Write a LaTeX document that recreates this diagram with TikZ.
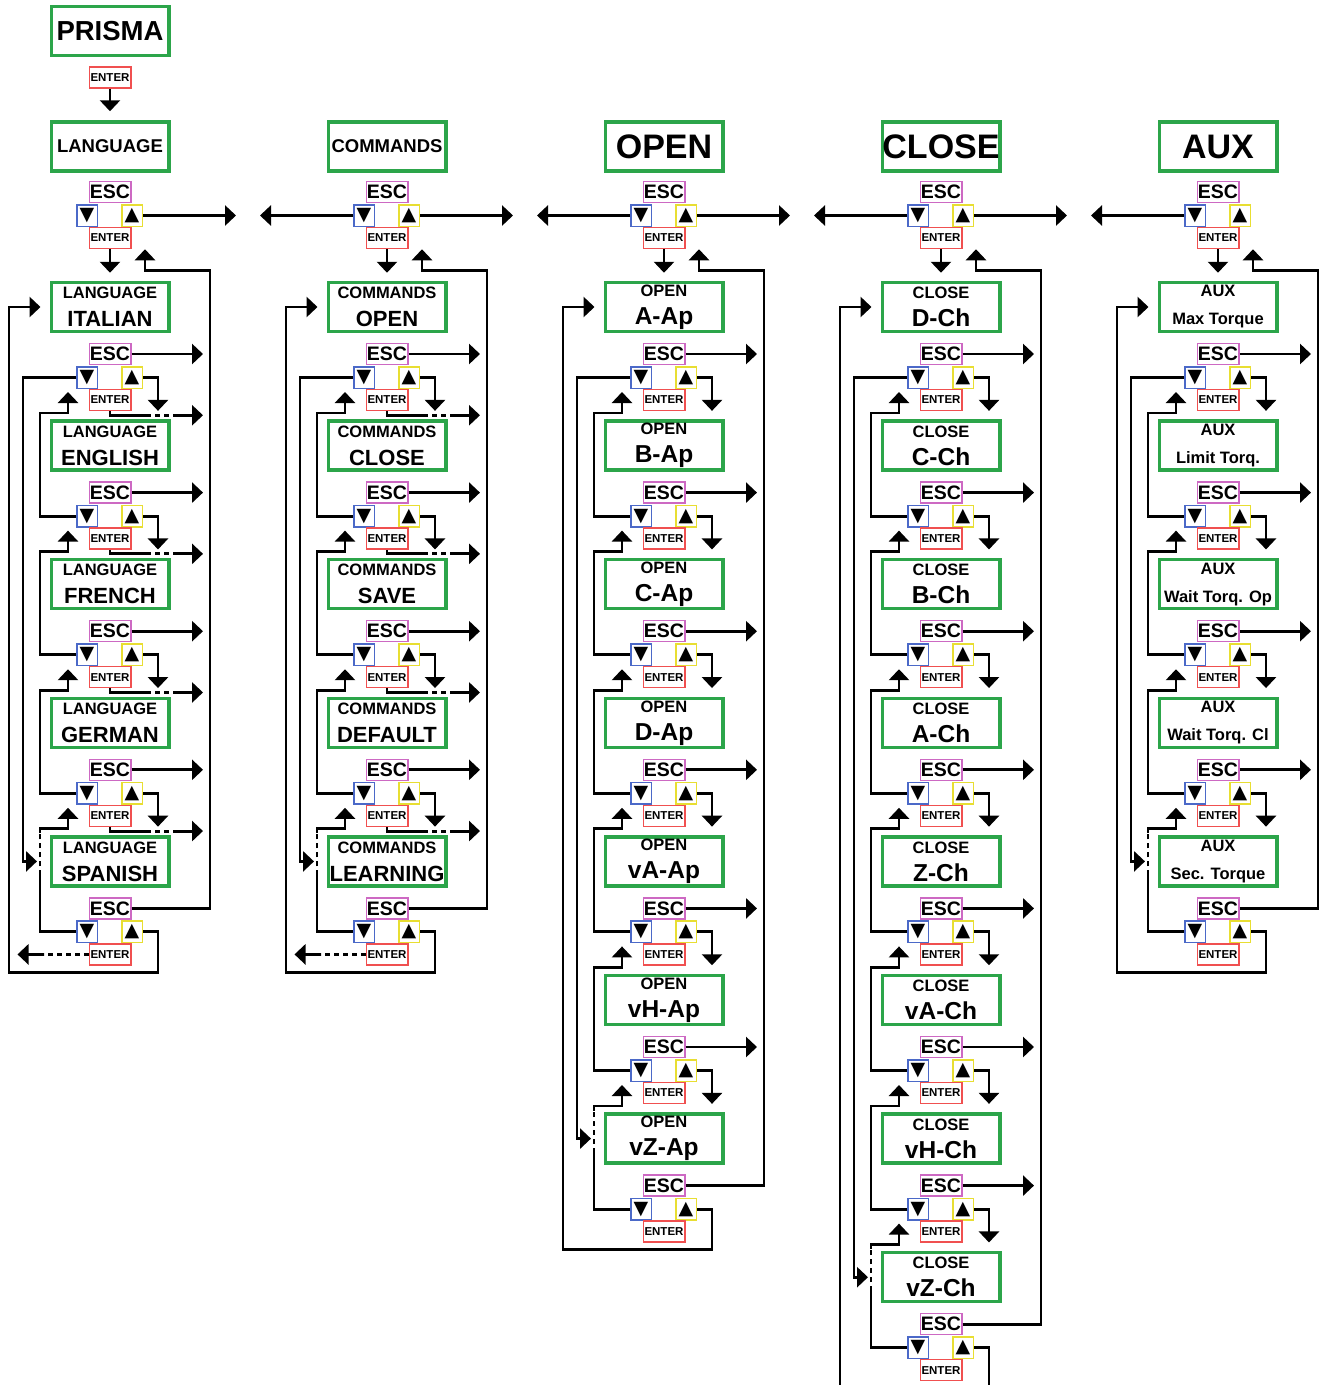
\documentclass[tikz,border=0pt]{standalone}
\usepackage{fontspec}
\setmainfont{Liberation Sans}
\newfontfamily\keyfont{DejaVu Sans}
\usetikzlibrary{arrows.meta}

\definecolor{boxgreen}{RGB}{44,165,74}
\definecolor{escpink}{RGB}{205,105,195}
\definecolor{downblue}{RGB}{75,105,200}
\definecolor{upyellow}{RGB}{232,222,50}
\definecolor{enterred}{RGB}{240,80,80}

% two-line screen text: small title, larger value
\newcommand{\screentext}[3]{{\fontsize{16.5}{18}\selectfont #1}\\{\fontsize{#3}{#3}\selectfont #2}}

% ESC / down / up / ENTER keys below a screen centred at (#2,#3)
\newcommand{\keypad}[3]{%
  \node[esckey] (esc-#1) at (#2,#3+47) {ESC};
  \node[dnkey] (dn-#1) at (#2-23,#3+70.5) {▼};
  \node[upkey] (up-#1) at (#2+22,#3+70.5) {▲};
  \node[enterkey] (ent-#1) at (#2,#3+93) {ENTER};
}

\begin{document}
\begin{tikzpicture}[x=1pt, y=-1pt,
  screen/.style={draw=boxgreen, line width=3.5pt, minimum width=117.5pt, minimum height=49pt,
    inner sep=0pt, align=center, font=\bfseries\fontsize{20}{28}\selectfont},
  esckey/.style={draw=escpink, line width=1.5pt, minimum width=41.5pt, minimum height=21pt,
    inner sep=0pt, font=\bfseries\fontsize{19.5}{19.5}\selectfont},
  dnkey/.style={draw=downblue, line width=1.5pt, minimum width=20.5pt, minimum height=21.5pt,
    inner sep=0pt, font=\keyfont\fontsize{19}{19}\selectfont},
  upkey/.style={dnkey, draw=upyellow},
  enterkey/.style={draw=enterred, line width=1.5pt, minimum width=41.5pt, minimum height=21pt,
    inner sep=0pt, font=\bfseries\fontsize{11.5}{11.5}\selectfont},
  wire/.style={line width=2.9pt},
  link/.style={wire, -{Triangle[width=20pt,length=11pt]}},
  gapline/.style={wire, dash pattern=on 5pt off 4pt}]

\clip (0,0) rectangle (1321,1385);

% start
\node[screen] (prisma) at (110,31) {\fontsize{27.5}{27.5}\selectfont PRISMA};
\node[enterkey] (ent-start) at (110,77.5) {ENTER};

% -------- menu columns --------
\foreach \col/\n/\ent/\hd/\hsz/\sub/\bsz/\items in {
    1/5/1/LANGUAGE/18.5/LANGUAGE/22/{ITALIAN,ENGLISH,FRENCH,GERMAN,SPANISH},
    2/5/1/COMMANDS/18.5/COMMANDS/22/{OPEN,CLOSE,SAVE,DEFAULT,LEARNING},
    3/7/0/OPEN/34/OPEN/24.5/{A-Ap,B-Ap,C-Ap,D-Ap,vA-Ap,vH-Ap,vZ-Ap},
    4/8/0/CLOSE/34/CLOSE/24.5/{D-Ch,C-Ch,B-Ch,A-Ch,Z-Ch,vA-Ch,vH-Ch,vZ-Ch},
    5/5/0/AUX/34/AUX/16.5/{Max Torque,Limit Torq.,Wait Torq. Op,Wait Torq. Cl,Sec. Torque}} {
  \pgfmathsetmacro{\X}{110+277*(\col-1)}

  % header screen and its keys
  \node[screen] (hd-\col) at (\X,146.5) {\fontsize{\hsz}{\hsz}\selectfont\hd};
  \keypad{\col-0}{\X}{145}

  % screens of the column
  \foreach \lbl [count=\k] in \items {
    \pgfmathsetmacro{\Y}{307+138.6*(\k-1)}
    \node[screen] (scr-\col-\k) at (\X,\Y) {\screentext{\sub}{\lbl}{\bsz}};
    \keypad{\col-\k}{\X}{\Y}
  }

  % header arrows
  \ifnum\col<5 \draw[link] (up-\col-0.east) -- ++(93,0); \fi
  \ifnum\col>1 \draw[link] (dn-\col-0.west) -- ++(-93,0); \fi
  \draw[link, shorten >=8pt] (ent-\col-0) -- (scr-\col-1);

  % ESC, up and ENTER of the inner screens
  \pgfmathtruncatemacro{\m}{\n-1}
  \foreach \k in {1,...,\m} {
    \pgfmathtruncatemacro{\q}{\k+1}
    \draw[link] (esc-\col-\k.east) -- ++(71.5,0);
    \draw[link, shorten >=8.5pt] (up-\col-\k.east) -| ([xshift=48pt]scr-\col-\q.north);
    \ifnum\ent=1
      \draw[wire] (ent-\col-\k.south) |- ++(36,4) coordinate (e1);
      \draw[gapline] (e1) -- ++(28,0) coordinate (e2);
      \draw[link] (e2) -- ++(29,0);
    \fi
  }

  % down key back to the previous screen
  \foreach \k in {2,...,\m} {
    \pgfmathtruncatemacro{\p}{\k-1}
    \draw[link] (dn-\col-\k.west) -- ++(-36,0)
      |- ([xshift=-8pt,yshift=-24pt]dn-\col-\p.south west)
      -- ([xshift=-8pt,yshift=-3pt]dn-\col-\p.south west);
  }

  % last screen: down key crosses the wrap arrow
  \draw[wire] (dn-\col-\n.west) -- ++(-36,0) -- ++(0,-56.5) coordinate (e1);
  \draw[gapline] (e1) -- ++(0,-42) coordinate (e2);
  \draw[link] (e2) |- ([xshift=-8pt,yshift=-24pt]dn-\col-\m.south west)
    -- ([xshift=-8pt,yshift=-3pt]dn-\col-\m.south west);

  % wrap arounds
  \draw[link] (dn-\col-1.west) -| ([xshift=-26.5pt]scr-\col-\n.west)
    -- ([xshift=-12.5pt]scr-\col-\n.west);
  \draw[link, shorten >=9pt] (up-\col-\n.east) -- ++(15,0) |- ++(-149,40.5) |- (scr-\col-1.west);
  \draw[link] (esc-\col-\n.east) -- ++(78.5,0)
    |- ([xshift=35pt,yshift=-21pt]ent-\col-0.south) -- ([xshift=35pt]ent-\col-0.south);
  \ifnum\ent=1
    \draw[gapline] (ent-\col-\n.west) -- ++(-45,0) coordinate (e1);
    \draw[link] (e1) -- ++(-26,0);
  \fi
}

% start into the first column
\draw[link, shorten >=9pt] (ent-start) -- (hd-1);

\end{tikzpicture}
\end{document}
